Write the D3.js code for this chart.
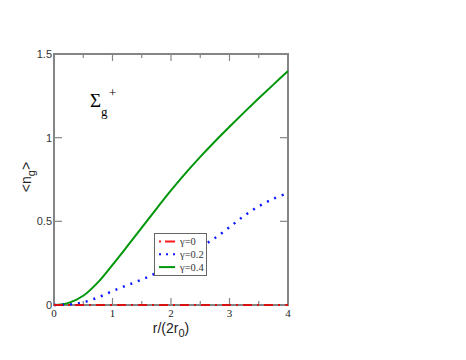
<!DOCTYPE html>
<html><head><meta charset="utf-8">
<script src="https://cdn.jsdelivr.net/npm/d3@7"></script>
<style>body{margin:0;background:#fff}</style>
</head><body>
<svg id="c" width="466" height="360"></svg>
<script>
const xs = [0,0.25,0.5,0.75,1,1.25,1.5,1.75,2,2.25,2.5,2.75,3,3.25,3.5,3.75,4];
const gamma0 = [0,0,0,0,0,0,0,0,0,0,0,0,0,0,0,0,0];
const gamma02 = [0,0.003,0.016,0.045,0.083,0.118,0.152,0.192,0.24,0.29,0.345,0.40,0.465,0.533,0.59,0.635,0.67];
const gamma04 = [0,0.0125,0.055,0.135,0.24,0.35,0.462,0.575,0.685,0.788,0.885,0.977,1.065,1.151,1.235,1.317,1.398];
const xTicks = [0,1,2,3,4];
const xMinor = [0.5,1.5,2.5,3.5];
const yTicks = [0,0.5,1,1.5];
const yTickLabels = ["0","0.5","1","1.5"];
const legendLabels = ["γ=0","γ=0.2","γ=0.4"];

const svg = d3.select("#c");
const L=54,R=288,T=54,B=305;
const x = d3.scaleLinear().domain([0,4]).range([L,R]);
const y = d3.scaleLinear().domain([0,1.5]).range([B,T]);
const axisCol = "#858585";

// mirrored ticks
const g = svg.append("g");
const tk = (x1,y1,x2,y2)=>g.append("line").attr("x1",x1).attr("y1",y1).attr("x2",x2).attr("y2",y2).attr("stroke",axisCol).attr("stroke-width",1.2);
xTicks.forEach(v=>{tk(x(v),B,x(v),B-7);tk(x(v),T,x(v),T+7);});
xMinor.forEach(v=>{tk(x(v),B,x(v),B-4);tk(x(v),T,x(v),T+4);});
yTicks.forEach(v=>{tk(L,y(v),L+8,y(v));tk(R,y(v),R-8,y(v));});

// frame
svg.append("rect").attr("x",L).attr("y",T).attr("width",R-L).attr("height",B-T)
  .attr("fill","none").attr("stroke",axisCol).attr("stroke-width",2);

// series
const series = [
  {vals:gamma04,color:"#00960a",dash:null,w:2},
  {vals:gamma02,color:"#0b17ff",dash:"2,6",w:2.5},
  {vals:gamma0,color:"#d81010",dash:"9,5,2,5",w:2},
];
const line = d3.line().curve(d3.curveCatmullRom.alpha(0.5));
series.forEach(s=>{
  svg.append("path").attr("d",line(xs.map((v,i)=>[x(v),y(s.vals[i])])))
    .attr("fill","none").attr("stroke",s.color).attr("stroke-width",s.w)
    .attr("stroke-dasharray",s.dash);
});

// tick labels
xTicks.forEach(v=>svg.append("text").attr("x",x(v)).attr("y",317).attr("text-anchor","middle")
  .attr("font-family","Liberation Serif, serif").attr("font-size",11).attr("fill","#222").text(v));
yTicks.forEach((v,i)=>svg.append("text").attr("x",L-2).attr("y",y(v)+4).attr("text-anchor","end")
  .attr("font-family","Liberation Sans, Arial, sans-serif").attr("font-size",11).attr("fill","#333").text(yTickLabels[i]));

// axis titles
const xt = svg.append("text").attr("x",171).attr("y",333).attr("text-anchor","middle")
  .attr("font-family","Liberation Sans, Arial, sans-serif").attr("font-size",14).attr("fill","#222");
xt.append("tspan").text("r/(2r");
xt.append("tspan").attr("dy",4).attr("font-size",11).text("0");
xt.append("tspan").attr("dy",-4).text(")");

const yt = svg.append("text").attr("transform","translate(31,177) rotate(-90)").attr("text-anchor","middle")
  .attr("font-family","Liberation Sans, Arial, sans-serif").attr("font-size",14).attr("fill","#222");
yt.append("tspan").text("<n");
yt.append("tspan").attr("dy",4).attr("font-size",11).text("g");
yt.append("tspan").attr("dy",-4).text(">");

// Sigma label
svg.append("text").attr("x",90).attr("y",107).attr("font-family","Liberation Serif, serif").attr("font-size",19).text("Σ");
svg.append("text").attr("x",101).attr("y",116).attr("font-family","Liberation Serif, serif").attr("font-size",13).text("g");
svg.append("text").attr("x",109).attr("y",97).attr("font-family","Liberation Serif, serif").attr("font-size",13).text("+");

// legend
const lg = svg.append("g");
lg.append("rect").attr("x",154.5).attr("y",233.5).attr("width",52).attr("height",42)
  .attr("fill","#fff").attr("stroke","#666").attr("stroke-width",1);
const legColors = ["#ff1a1a","#0b17ff","#00960a"];
const legDash = ["2,4,9,0","2,5","none"];
legendLabels.forEach((t,i)=>{
  const yy = 241.5 + i*12.8;
  lg.append("line").attr("x1",159).attr("x2",175).attr("y1",yy).attr("y2",yy)
    .attr("stroke",legColors[i]).attr("stroke-width",2).attr("stroke-dasharray",legDash[i]);
  lg.append("text").attr("x",180).attr("y",yy+3.5).attr("font-family","Liberation Serif, serif")
    .attr("font-size",10.5).attr("fill","#333").text(t);
});
</script>
</body></html>
